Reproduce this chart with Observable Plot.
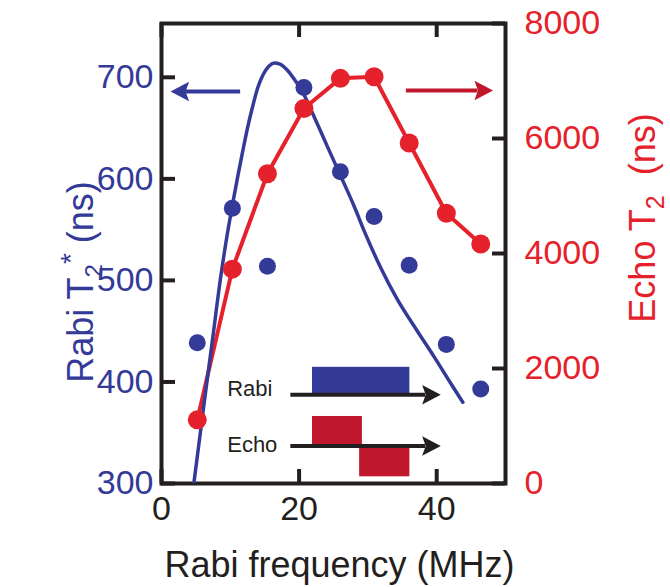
<!DOCTYPE html>
<html><head><meta charset="utf-8">
<script src="https://cdn.jsdelivr.net/npm/d3@7"></script>
<script src="https://cdn.jsdelivr.net/npm/@observablehq/plot@0.6"></script>
<style>body{margin:0;background:#fff}</style>
</head><body><div id="chart"></div>
<script>
// ---- data ----
const freqs  = [5.2, 10.3, 15.4, 20.7, 26.0, 30.9, 36.0, 41.4, 46.4];          // MHz
const rabiT2 = [438.5, 571, 514, 690, 607, 563, 515, 437, 393];              // ns (left axis)
const echoT2 = [1107, 3728, 5387, 6522, 7046, 7074, 5921, 4699, 4164];       // ns (right axis)
// Rabi fit curve
const fitX = [4.7, 6.1, 7.4, 8.6, 9.5, 10.3, 11.1, 11.8, 12.5, 13.2, 14.0, 14.8, 15.6, 16.4, 17.2, 18.3, 19.3, 20.0, 20.7, 22.2, 24.1, 26.1, 28.0, 29.5, 31.9, 34.3, 37.2, 39.7, 42.1, 43.8];
const fitY = [300, 374, 441, 503, 543, 574, 603, 627, 650, 670, 690, 703, 711, 714, 713, 707, 698, 691, 683, 661, 632, 602, 573, 548, 512, 481, 450, 424, 398, 380];
// axes
const xTicks = [0, 20, 40];
const leftTicks = [300, 400, 500, 600, 700];
const rightTicks = [0, 2000, 4000, 6000, 8000];
const xDomain = [0, 50];
const leftDomain = [300, 753];
const rightDomain = [0, 8000];
// direction arrows (x from, x to, level on left axis)
const bigArrowX1 = [11.5, 35.6];
const bigArrowX2 = [3.5, 46.0];
const bigArrowY  = [686, 687];
// inset pulse diagram
const insetLabels = ["Rabi", "Echo"];
const insetLabelX = [9.55, 9.55];
const insetLabelY = [385.8, 331.4];
const insetArrowX1 = [18.8, 18.8];
const insetArrowX2 = [38.4, 38.4];
const insetArrowY  = [387.4, 337];
const pulseX1 = [21.95, 21.95, 28.8];
const pulseX2 = [36.1, 29.2, 36.1];
const pulseY1 = [387.4, 337, 306.6];
const pulseY2 = [414.4, 366, 337];

// ---- styling ----
const BLUE = "#343a98", RED = "#e5222b", DARKRED = "#c0172d", BLACK = "#231f20";
const W = 670, H = 587, mL = 161, mR = 165, mT = 23, mB = 104;
const innerW = W - mL - mR, innerH = H - mT - mB;
const echoToLeft = d3.scaleLinear(rightDomain, leftDomain);

const stealth = {draw(ctx, size) {
  const s = Math.sqrt(size);
  ctx.moveTo(0.85 * s, 0);
  ctx.lineTo(-0.2 * s, 0.55 * s);
  ctx.lineTo(0, 0);
  ctx.lineTo(-0.2 * s, -0.55 * s);
  ctx.closePath();
}};

const idx = d3.range(freqs.length);
const fitIdx = d3.range(fitX.length);
const arrows = d3.range(2).map(i => ({x1: bigArrowX1[i], x2: bigArrowX2[i], y: bigArrowY[i]}));
const inset = d3.range(2).map(i => ({x1: insetArrowX1[i], x2: insetArrowX2[i], y: insetArrowY[i], label: insetLabels[i], lx: insetLabelX[i], ly: insetLabelY[i]}));
const pulses = d3.range(3).map(i => ({x1: pulseX1[i], x2: pulseX2[i], y1: pulseY1[i], y2: pulseY2[i]}));

const plot = Plot.plot({
  width: W, height: H,
  marginLeft: mL, marginRight: mR, marginTop: mT, marginBottom: mB,
  x: {domain: xDomain},
  y: {domain: leftDomain},
  style: {fontFamily: "'Liberation Sans', Arial, sans-serif", background: "white"},
  marks: [
    Plot.axisX({ticks: xTicks, tickSize: 0, tickPadding: 12, fontSize: 34, fill: BLACK, label: null}),
    Plot.axisY({anchor: "left", ticks: leftTicks, tickSize: 0, tickPadding: 8, fontSize: 34, fill: BLUE, label: null}),
    Plot.axisY({anchor: "right", ticks: rightTicks.map(echoToLeft), tickFormat: d => String(Math.round(echoToLeft.invert(d))),
      tickSize: 0, tickPadding: 19, fontSize: 34, fill: RED, label: null}),
    // inward ticks
    Plot.tickY(leftTicks, {y: d => d, stroke: BLACK, strokeWidth: 4, insetRight: innerW - 14}),
    Plot.tickY(rightTicks.map(echoToLeft), {y: d => d, stroke: BLACK, strokeWidth: 4, insetLeft: innerW - 13}),
    Plot.tickX(xTicks, {x: d => d, stroke: BLACK, strokeWidth: 4, insetBottom: innerH - 14}),
    Plot.tickX(xTicks, {x: d => d, stroke: BLACK, strokeWidth: 4, insetTop: innerH - 14}),
    Plot.frame({stroke: BLACK, strokeWidth: 4}),
    // inset pulse diagram
    Plot.rect(pulses.slice(0, 1), {x1: "x1", x2: "x2", y1: "y1", y2: "y2", fill: BLUE}),
    Plot.rect(pulses.slice(1), {x1: "x1", x2: "x2", y1: "y1", y2: "y2", fill: DARKRED}),
    Plot.ruleY(inset, {x1: "x1", x2: "x2", y: "y", stroke: BLACK, strokeWidth: 4}),
    Plot.dot(inset, {x: "x2", y: "y", symbol: stealth, r: 10, fill: BLACK, stroke: null}),
    Plot.text(inset, {x: "lx", y: "ly", text: "label", textAnchor: "start", lineAnchor: "bottom", fontSize: 22, fill: BLACK}),
    // data
    Plot.line(idx, {x: i => freqs[i], y: i => echoToLeft(echoT2[i]), stroke: RED, strokeWidth: 4}),
    Plot.line(fitIdx, {x: i => fitX[i], y: i => fitY[i], stroke: BLUE, strokeWidth: 3.5, curve: "monotone-x", clip: true}),
    Plot.dot(idx, {x: i => freqs[i], y: i => rabiT2[i], r: 8.5, fill: BLUE}),
    Plot.dot(idx, {x: i => freqs[i], y: i => echoToLeft(echoT2[i]), r: 9.5, fill: RED}),
    // direction arrows
    Plot.ruleY(arrows.slice(0, 1), {x1: "x1", x2: "x2", y: "y", stroke: BLUE, strokeWidth: 4}),
    Plot.dot(arrows.slice(0, 1), {x: "x2", y: "y", symbol: stealth, r: 10, fill: BLUE, stroke: null, rotate: 180}),
    Plot.ruleY(arrows.slice(1), {x1: "x1", x2: "x2", y: "y", stroke: DARKRED, strokeWidth: 4}),
    Plot.dot(arrows.slice(1), {x: "x2", y: "y", symbol: stealth, r: 10, fill: DARKRED, stroke: null})
  ]
});

const svg = d3.select(plot);
const font = "'Liberation Sans', Arial, sans-serif";
svg.append("text").attr("x", 339.5).attr("y", 577).attr("text-anchor", "middle")
  .attr("font-family", font).attr("font-size", 36).attr("fill", BLACK).text("Rabi frequency (MHz)");

const lt = svg.append("text").attr("transform", "translate(93,282) rotate(-90)").attr("text-anchor", "middle")
  .attr("font-family", font).attr("font-size", 36).attr("fill", BLUE);
lt.append("tspan").text("Rabi T");
lt.append("tspan").attr("dy", 9).attr("font-size", 24).text("2");
lt.append("tspan").attr("dy", -22).attr("font-size", 28).text("*");
lt.append("tspan").attr("dy", 13).text(" (ns)");

const rt = svg.append("text").attr("transform", "translate(655,218) rotate(-90)").attr("text-anchor", "middle")
  .attr("font-family", font).attr("font-size", 36).attr("fill", RED);
rt.append("tspan").text("Echo T");
rt.append("tspan").attr("dy", 9).attr("font-size", 25).text("2");
rt.append("tspan").attr("dy", -9).text("\u00a0 (ns)");

document.getElementById("chart").appendChild(plot);
</script>
</body></html>
